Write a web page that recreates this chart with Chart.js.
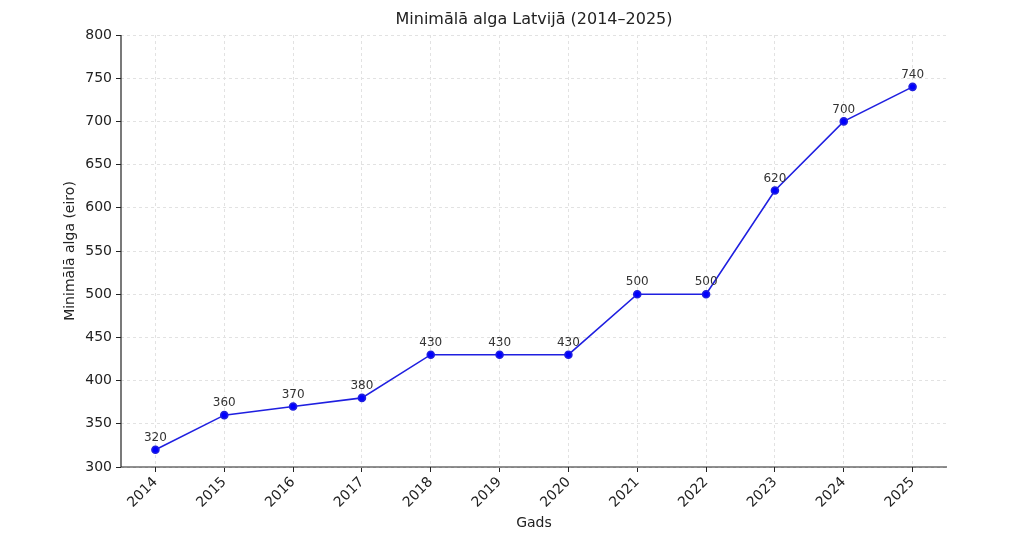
<!DOCTYPE html>
<html><head><meta charset="utf-8">
<script src="https://cdn.jsdelivr.net/npm/chart.js@4"></script>
<style>body{margin:0;background:#fff}</style>
</head><body>
<canvas id="c" width="1024" height="536"></canvas>
<script>
const years = ['2014','2015','2016','2017','2018','2019','2020','2021','2022','2023','2024','2025'];
const wages = [320,360,370,380,430,430,430,500,500,620,700,740];
const titleText = 'Minimālā alga Latvijā (2014–2025)';
const FONT = "'DejaVu Sans', sans-serif";

const overlay = {
  id:'overlay',
  afterDatasetsDraw(chart){
    const ctx = chart.ctx, meta = chart.getDatasetMeta(0), a = chart.chartArea;
    ctx.save();
    ctx.font = '12px ' + FONT; ctx.fillStyle = '#333'; ctx.textAlign='center'; ctx.textBaseline='bottom';
    meta.data.forEach((p,i)=>ctx.fillText(String(wages[i]), p.x, p.y-6));
    ctx.font = '16px ' + FONT; ctx.fillStyle='#222'; ctx.textBaseline='middle';
    ctx.fillText(titleText, (a.left+a.right)/2, 20);
    ctx.strokeStyle='#222'; ctx.lineWidth=1.2;
    ctx.beginPath(); ctx.moveTo(a.left, a.top); ctx.lineTo(a.left, a.bottom); ctx.lineTo(a.right, a.bottom); ctx.stroke();
    ctx.restore();
  }
};

new Chart(document.getElementById('c'), {
  type:'line',
  data:{labels:years, datasets:[{data:wages, borderColor:'#1f1fe0', backgroundColor:'#0000ff', borderWidth:1.6, pointRadius:3.5, pointHoverRadius:3.5, tension:0}]},
  options:{
    responsive:false, animation:false,
    layout:{padding:{left:62,top:35,right:77,bottom:0}},
    plugins:{legend:{display:false}, tooltip:{enabled:false}, title:{display:false}},
    scales:{
      x:{offset:true,
        grid:{color:'#e2e2e2', drawTicks:true, tickLength:5, tickColor:'#222'},
        border:{display:false, dash:[3,3]},
        ticks:{color:'#222', font:{family:FONT,size:14}, minRotation:45, maxRotation:45, padding:2},
        title:{display:true, text:'Gads', color:'#222', font:{family:FONT,size:14}, padding:{top:0}},
        afterFit(s){s.height=69;}
      },
      y:{min:300,max:800,
        grid:{color:'#e2e2e2', tickLength:5, tickColor:'#222'},
        border:{display:false, dash:[3,3]},
        ticks:{stepSize:50, color:'#222', font:{family:FONT,size:14}, padding:4},
        title:{display:true, text:'Minimālā alga (eiro)', color:'#222', font:{family:FONT,size:14}, padding:{bottom:0,top:0}},
        afterFit(s){s.width=59;}
      }
    }
  },
  plugins:[overlay]
});
</script>
</body></html>
